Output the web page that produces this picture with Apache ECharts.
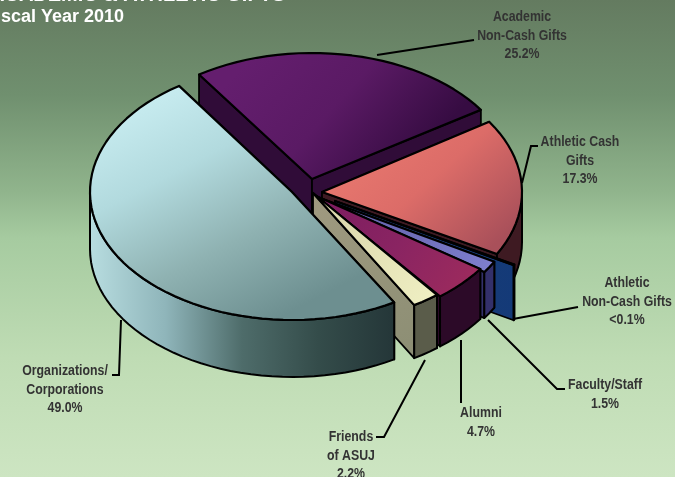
<!DOCTYPE html>
<html><head><meta charset="utf-8">
<style>html,body{margin:0;padding:0;background:#cbe3bd}#c{width:675px;height:477px}</style>
<script src="https://cdn.jsdelivr.net/npm/echarts@6/dist/echarts.min.js"></script>
</head><body><div id="c"></div>
<script>
var categories = ['Academic Non-Cash Gifts','Athletic Cash Gifts','Athletic Non-Cash Gifts','Faculty/Staff','Alumni','Friends of ASUJ','Organizations/Corporations'];
var values = [25.2,17.3,0.1,1.5,4.7,2.2,49.0];
var labelLines = [
  ['Academic','Non-Cash Gifts','25.2%'],
  ['Athletic Cash','Gifts','17.3%'],
  ['Athletic','Non-Cash Gifts','<0.1%'],
  ['Faculty/Staff','1.5%'],
  ['Alumni','4.7%'],
  ['Friends','of ASUJ','2.2%'],
  ['Organizations/','Corporations','49.0%']
];
var titleText = 'ACADEMIC & ATHLETIC GIFTS';
var subtitleText = 'Fiscal Year 2010';

/* ---- drawing layout, separate from the data ---- */
var START = 124;
var geom = [
  {cx:312,cy:179,rx:202,ry:126,d:55},
  {cx:322,cy:192,rx:200,ry:128,d:50},
  {cx:335,cy:201,rx:205,ry:131,d:55},
  {cx:320,cy:198,rx:200,ry:130,d:46},
  {cx:316,cy:196,rx:200,ry:128,d:50},
  {cx:313,cy:193,rx:200,ry:130,d:53},
  {cx:292,cy:192,rx:202,ry:128,d:57}
];
function lg(x,y,x2,y2,stops){return {type:'linear',x:x,y:y,x2:x2,y2:y2,colorStops:stops.map(function(c,i){return {offset:i/(stops.length-1),color:c};})};}
var paint = [
  {top:lg(0.2,0,0.7,1,['#641e6e','#5a1a64','#360c42']),wall:'#2a0a30',cut:'#300c38'},
  {top:lg(0.2,0,0.8,1,['#ea7a70','#dc6c68','#a9505a']),wall:'#3e1a22',cut:'#3e1a22'},
  {top:'#2a4a8a',wall:'#17386e',cut:lg(1,0,0,0,['#143a78','#1d3f70'])},
  {top:lg(0,0,1,1,['#5a5aa0','#8080d0']),wall:'#33306a',cut:'#33306a'},
  {top:lg(0,0,1,1,['#7b1c60','#8a2462','#a02c5c']),wall:'#2c0a28',cut:'#2c0a28'},
  {top:lg(0,0,1,1,['#d8d4a8','#f0f0c4']),wall:'#5a5c4a',cut:lg(0,0,1,1,['#a09a80','#8c8e74'])},
  {top:lg(0.2,0,0.6,1,['#caeef2','#b2dade','#8fb2b2','#6d8f90']),
   wall:lg(0,0,1,0,['#b8dde0','#8fb5ba','#4e6c6a','#344c4a','#243638']),cut:'#2c4244'}
];
var leaders = [
  [[377,55],[474,40]],
  [[522,183],[531,146],[538,146]],
  [[513,319],[578,307]],
  [[488,320],[557,389],[565,389]],
  [[461,340],[461,403]],
  [[425,360],[384,437],[376,437]],
  [[121,320],[119,375],[112,375]]
];
var labelPos = [[522,17],[580,142],[627,283],[605,385],[481,413],[351,437],[65,371]];
var LH = 18.5, LABEL_FONT = 'bold 14.5px "Liberation Sans",Arial,sans-serif', LABEL_SX = 0.85;
var INK = '#000';

function pt(g,a,dy){var r=a*Math.PI/180;return [g.cx+g.rx*Math.cos(r),g.cy-g.ry*Math.sin(r)+(dy||0)];}
function arc(g,a0,a1,dy){var p=[];var n=Math.max(2,Math.round(Math.abs(a1-a0)/3));for(var i=0;i<=n;i++)p.push(pt(g,a0+(a1-a0)*i/n,dy));return p;}
function poly(points,fill,w,z){return {type:'polygon',z2:z,shape:{points:points},style:{fill:fill,stroke:INK,lineWidth:w,lineJoin:'round'}};}

var total = values.reduce(function(a,b){return a+b;},0);
function sliceAngles(i){var s=0;for(var k=0;k<i;k++)s+=values[k];return [START-s/total*360,START-(s+values[i])/total*360];}

function renderSlice(params,api){
  var i=params.dataIndex,g=geom[i],p=paint[i],an=sliceAngles(i),a0=an[0],a1=an[1];
  api.value(0);
  var base=i*10,ch=[];
  var apex=[g.cx,g.cy],apexB=[g.cx,g.cy+g.d];
  var A=pt(g,a0),B=pt(g,a1),Ab=pt(g,a0,g.d),Bb=pt(g,a1,g.d);
  ch.push(poly([apex,A,Ab,apexB],p.cut,1.8,base+1));
  ch.push(poly([apex,B,Bb,apexB],p.cut,1.8,base+1));
  var w0=Math.min(a0,0),w1=Math.max(a1,-180);
  if(w0>w1){ch.push(poly(arc(g,w0,w1,0).concat(arc(g,w1,w0,g.d)),p.wall,2,base+2));}
  ch.push(poly([apex].concat(arc(g,a0,a1,0)),p.top,2.2,base+3));
  return {type:'group',children:ch};
}
function renderLabel(params,api){
  var i=params.dataIndex;api.value(0);
  var ch=[{type:'polyline',shape:{points:leaders[i]},style:{fill:null,stroke:'#000',lineWidth:2}}];
  labelLines[i].forEach(function(t,k){
    ch.push({type:'text',x:labelPos[i][0],y:labelPos[i][1]+k*LH,scaleX:LABEL_SX,
      style:{text:t,x:0,y:0,align:'center',verticalAlign:'middle',font:LABEL_FONT,fill:'#333333'}});
  });
  return {type:'group',children:ch};
}
var seriesData=categories.map(function(n,i){return {name:n,value:[values[i]]};});
var TITLE_FONT='"Liberation Sans",Arial,sans-serif';
var chart=echarts.init(document.getElementById('c'),null,{renderer:'canvas'});
chart.setOption({
  animation:false,
  backgroundColor:{type:'linear',x:0,y:0,x2:0,y2:1,colorStops:[
    {offset:0,color:'#647b60'},{offset:0.2,color:'#70906f'},{offset:0.4,color:'#90b48c'},{offset:0.5,color:'#a6cba0'},{offset:0.75,color:'#bfdcb4'},{offset:1,color:'#cde5c2'}]},
  graphic:[
    {type:'text',x:-10,y:-5,style:{text:titleText,x:0,y:0,verticalAlign:'middle',font:'bold 20px '+TITLE_FONT,fill:'#fff'}},
    {type:'text',x:-15,y:17.5,style:{text:subtitleText,x:0,y:0,verticalAlign:'middle',font:'bold 18px '+TITLE_FONT,fill:'#fff'}}
  ],
  series:[
    {type:'custom',coordinateSystem:'none',silent:true,data:seriesData,renderItem:renderSlice,z:2},
    {type:'custom',coordinateSystem:'none',silent:true,data:seriesData,renderItem:renderLabel,z:3}
  ]
});
</script></body></html>
